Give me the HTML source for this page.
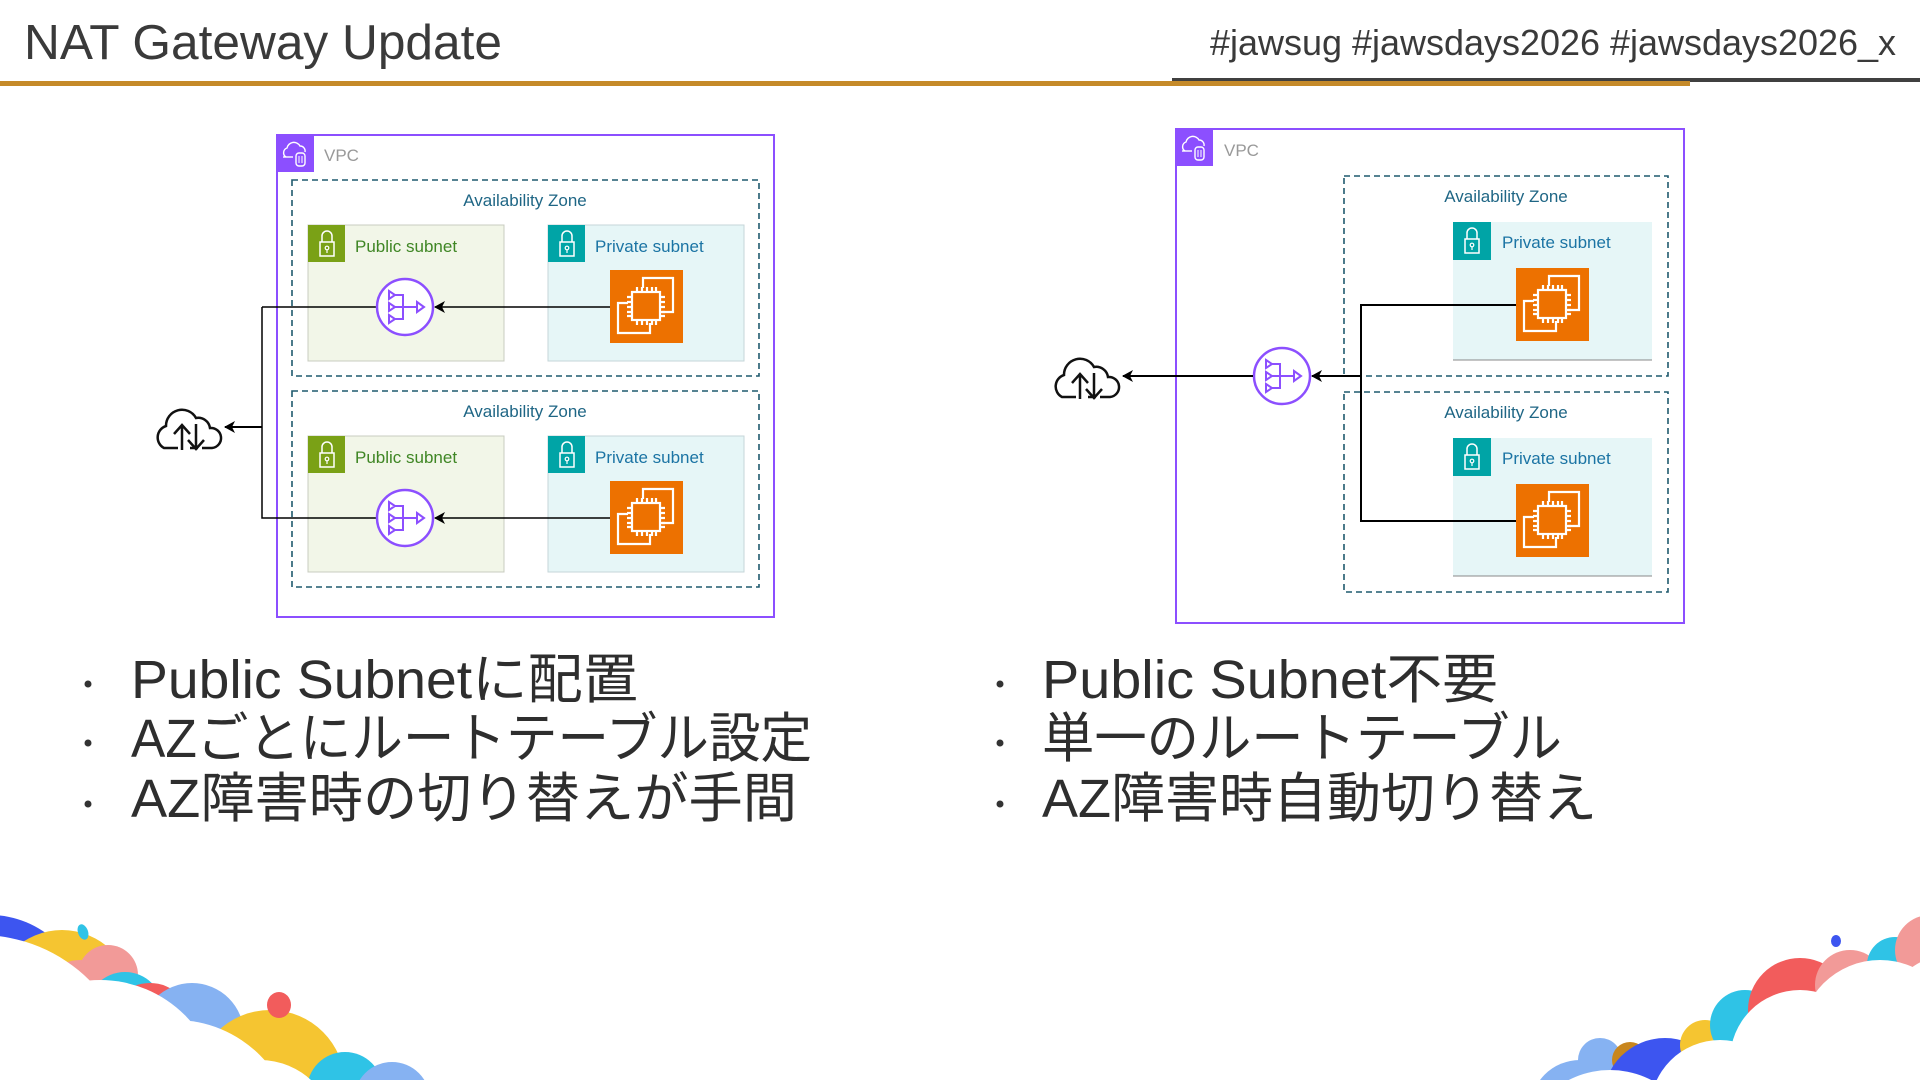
<!DOCTYPE html>
<html><head><meta charset="utf-8"><style>
html,body{margin:0;padding:0;background:#fff;width:1920px;height:1080px;overflow:hidden}
svg{display:block;overflow:hidden}
.t{font-family:"Liberation Sans","Noto Sans CJK JP",sans-serif}
</style></head><body>
<svg width="1920" height="1080" viewBox="0 0 1920 1080" xmlns="http://www.w3.org/2000/svg">
<defs>
<marker id="ah" markerWidth="12" markerHeight="12" refX="10" refY="6" orient="auto" markerUnits="userSpaceOnUse">
<path d="M0,0 L11,6 L0,12 L3,6 Z" fill="#000"/>
</marker>
<g id="nat">
<circle cx="0" cy="0" r="28" fill="#fff" stroke="#8C4FFF" stroke-width="2.5"/>
<g fill="none" stroke="#8C4FFF" stroke-width="2">
<path d="M-16,-16 L-10,-12 L-16,-8 Z M-16,-4 L-10,0 L-16,4 Z M-16,8 L-10,12 L-16,16 Z"/>
<path d="M-10,-12 L-2,-12 L-2,12 L-10,12 M-10,0 L12,0"/>
<path d="M12,-5 L19,0 L12,5 Z"/>
</g>
</g>
<g id="ec2">
<rect x="0" y="0" width="73" height="73" fill="#ED7100"/>
<g fill="none" stroke="#fff" stroke-width="2.2">
<path d="M33,18 L33,8 L63,8 L63,42 L52,42"/>
<path d="M18,33 L8,33 L8,63 L40,63 L40,53"/>
<rect x="22" y="22" width="28" height="28"/>
<path d="M27,22 v-5 M32,22 v-5 M37,22 v-5 M42,22 v-5 M46,22 v-5 M27,50 v5 M32,50 v5 M37,50 v5 M42,50 v5 M46,50 v5 M22,27 h-5 M22,32 h-5 M22,37 h-5 M22,42 h-5 M22,46 h-5 M50,27 h5 M50,32 h5 M50,37 h5 M50,42 h5 M50,46 h5"/>
</g>
</g>
<g id="lock">
<rect x="12" y="17" width="14" height="14" fill="none" stroke="#fff" stroke-width="1.5"/>
<path d="M14,17 V11 A5,5 0 0 1 24,11 V17" fill="none" stroke="#fff" stroke-width="1.5"/>
<circle cx="19" cy="23" r="1.8" fill="none" stroke="#fff" stroke-width="1.2"/>
<path d="M19,25 v3" stroke="#fff" stroke-width="1.2"/>
</g>
<g id="vpcicon">
<rect x="0" y="0" width="37" height="37" fill="#8C4FFF"/>
<path d="M9,22 A5,5 0 0 1 10,13 A7,7 0 0 1 23,11 A5,5 0 0 1 28,17" fill="none" stroke="#fff" stroke-width="1.4"/>
<path d="M6,22 h10" stroke="#fff" stroke-width="1.4"/>
<rect x="19" y="18" width="9" height="13" rx="3" fill="none" stroke="#fff" stroke-width="1.4"/>
<path d="M22,21 v7 M25,21 v7" stroke="#fff" stroke-width="1"/>
</g>
<g id="cloud">
<path d="M-20,20 H-26 A12,12 0 0 1 -24,-2 A16,16 0 0 1 6,-10 A12,12 0 0 1 20,0 A10,10 0 0 1 22,20 H12" fill="none" stroke="#111" stroke-width="2.5"/>
<path d="M-8,22 V-2 M-16,6 L-8,-3 L0,6" fill="none" stroke="#111" stroke-width="2.5"/>
<path d="M6,20 V-4 M-2,12 L6,21 L14,12" fill="none" stroke="#111" stroke-width="2.5"/>
<path d="M-20,20 H-12 M0,20 H8" stroke="#111" stroke-width="2.5"/>
</g>
</defs>

<!-- header -->
<text class="t" x="24" y="59" font-size="49" fill="#3a3a3a" textLength="478" lengthAdjust="spacingAndGlyphs">NAT Gateway Update</text>
<text class="t" x="1210" y="55" font-size="36" fill="#3a3a3a" textLength="686" lengthAdjust="spacingAndGlyphs">#jawsug #jawsdays2026 #jawsdays2026_x</text>
<rect x="1172" y="78" width="748" height="4" fill="#404040"/>
<rect x="0" y="81" width="1690" height="5" fill="#C58A29"/>

<!-- LEFT DIAGRAM -->
<rect x="277" y="135" width="497" height="482" fill="#fff" stroke="#8C4FFF" stroke-width="2"/>
<use href="#vpcicon" x="277" y="135"/>
<text class="t" x="324" y="161" font-size="17" fill="#999">VPC</text>

<rect x="292" y="180" width="467" height="196" fill="none" stroke="#1f5a6e" stroke-width="1.6" stroke-dasharray="6,4"/>
<rect x="292" y="391" width="467" height="196" fill="none" stroke="#1f5a6e" stroke-width="1.6" stroke-dasharray="6,4"/>
<text class="t" x="525" y="206" font-size="17" fill="#1f6685" text-anchor="middle">Availability Zone</text>
<text class="t" x="525" y="417" font-size="17" fill="#1f6685" text-anchor="middle">Availability Zone</text>

<g>
<rect x="308" y="225" width="196" height="136" fill="#F2F6E8" stroke="#c8ccc0" stroke-width="1"/>
<rect x="308" y="225" width="37" height="37" fill="#7AA116"/><use href="#lock" x="308" y="225"/>
<text class="t" x="355" y="252" font-size="17" fill="#3F8624">Public subnet</text>
<rect x="548" y="225" width="196" height="136" fill="#E6F6F7" stroke="#c6d6d8" stroke-width="1"/>
<rect x="548" y="225" width="37" height="37" fill="#00A4A6"/><use href="#lock" x="548" y="225"/>
<text class="t" x="595" y="252" font-size="17" fill="#1b74a4">Private subnet</text>
</g>
<g>
<rect x="308" y="436" width="196" height="136" fill="#F2F6E8" stroke="#c8ccc0" stroke-width="1"/>
<rect x="308" y="436" width="37" height="37" fill="#7AA116"/><use href="#lock" x="308" y="436"/>
<text class="t" x="355" y="463" font-size="17" fill="#3F8624">Public subnet</text>
<rect x="548" y="436" width="196" height="136" fill="#E6F6F7" stroke="#c6d6d8" stroke-width="1"/>
<rect x="548" y="436" width="37" height="37" fill="#00A4A6"/><use href="#lock" x="548" y="436"/>
<text class="t" x="595" y="463" font-size="17" fill="#1b74a4">Private subnet</text>
</g>

<path d="M262,307 H378 M262,307 V518 H378" fill="none" stroke="#000" stroke-width="1.5"/>
<use href="#nat" x="405" y="307"/>
<use href="#nat" x="405" y="518"/>
<use href="#ec2" x="610" y="270"/>
<use href="#ec2" x="610" y="481"/>
<path d="M610,307 H435" fill="none" stroke="#000" stroke-width="1.5" marker-end="url(#ah)"/>
<path d="M610,518 H435" fill="none" stroke="#000" stroke-width="1.5" marker-end="url(#ah)"/>
<path d="M262,427 H225" fill="none" stroke="#000" stroke-width="2" marker-end="url(#ah)"/>
<use href="#cloud" x="190" y="428"/>

<!-- RIGHT DIAGRAM -->
<rect x="1176" y="129" width="508" height="494" fill="#fff" stroke="#8C4FFF" stroke-width="2"/>
<use href="#vpcicon" x="1176" y="129"/>
<text class="t" x="1224" y="156" font-size="17" fill="#999">VPC</text>
<rect x="1344" y="176" width="324" height="200" fill="none" stroke="#1f5a6e" stroke-width="1.6" stroke-dasharray="6,4"/>
<rect x="1344" y="392" width="324" height="200" fill="none" stroke="#1f5a6e" stroke-width="1.6" stroke-dasharray="6,4"/>
<text class="t" x="1506" y="202" font-size="17" fill="#1f6685" text-anchor="middle">Availability Zone</text>
<text class="t" x="1506" y="418" font-size="17" fill="#1f6685" text-anchor="middle">Availability Zone</text>

<rect x="1453" y="222" width="199" height="138" fill="#E6F6F7"/>
<path d="M1453,360 H1652" stroke="#888" stroke-width="1"/>
<rect x="1453" y="222" width="38" height="38" fill="#00A4A6"/><use href="#lock" x="1453" y="222"/>
<text class="t" x="1502" y="248" font-size="17" fill="#1b74a4">Private subnet</text>
<rect x="1453" y="438" width="199" height="138" fill="#E6F6F7"/>
<path d="M1453,576 H1652" stroke="#888" stroke-width="1"/>
<rect x="1453" y="438" width="38" height="38" fill="#00A4A6"/><use href="#lock" x="1453" y="438"/>
<text class="t" x="1502" y="464" font-size="17" fill="#1b74a4">Private subnet</text>
<use href="#ec2" x="1516" y="268"/>
<use href="#ec2" x="1516" y="484"/>

<path d="M1516,305 H1361 V521 H1516" fill="none" stroke="#000" stroke-width="2"/>
<path d="M1361,376 H1312" fill="none" stroke="#000" stroke-width="2" marker-end="url(#ah)"/>
<use href="#nat" x="1282" y="376"/>
<path d="M1253,376 H1123" fill="none" stroke="#000" stroke-width="2" marker-end="url(#ah)"/>
<use href="#cloud" x="1088" y="377"/>

<!-- bullets -->
<g class="t" font-size="54" fill="#2e2e2e">
<circle cx="88" cy="684" r="3.5" fill="#333"/>
<circle cx="88" cy="743" r="3.5" fill="#333"/>
<circle cx="88" cy="804" r="3.5" fill="#333"/>
<text x="131" y="698" textLength="507" lengthAdjust="spacingAndGlyphs">Public Subnetに配置</text>
<text x="131" y="757" textLength="681" lengthAdjust="spacingAndGlyphs">AZごとにルートテーブル設定</text>
<text x="131" y="817" textLength="666" lengthAdjust="spacingAndGlyphs">AZ障害時の切り替えが手間</text>
<circle cx="1000" cy="684" r="3.5" fill="#333"/>
<circle cx="1000" cy="743" r="3.5" fill="#333"/>
<circle cx="1000" cy="804" r="3.5" fill="#333"/>
<text x="1042" y="698" textLength="456" lengthAdjust="spacingAndGlyphs">Public Subnet不要</text>
<text x="1042" y="757" textLength="520" lengthAdjust="spacingAndGlyphs">単一のルートテーブル</text>
<text x="1042" y="817" textLength="555" lengthAdjust="spacingAndGlyphs">AZ障害時自動切り替え</text>
</g>

<!-- bottom-left decoration -->
<g>
<circle cx="-10" cy="1010" r="95" fill="#3D55F0"/>
<circle cx="62" cy="1000" r="70" fill="#F5C531"/>
<circle cx="108" cy="975" r="30" fill="#F29A98"/>
<circle cx="80" cy="1000" r="40" fill="#F29A98"/>
<circle cx="125" cy="1010" r="38" fill="#2FC3E6"/>
<circle cx="150" cy="1025" r="42" fill="#F25C5C"/>
<circle cx="192" cy="1035" r="52" fill="#86B2F2"/>
<circle cx="270" cy="1085" r="75" fill="#F5C531"/>
<circle cx="345" cy="1090" r="38" fill="#2FC3E6"/>
<circle cx="392" cy="1100" r="38" fill="#86B2F2"/>
<circle cx="-20" cy="1090" r="155" fill="#fff"/>
<circle cx="100" cy="1100" r="120" fill="#fff"/>
<circle cx="175" cy="1140" r="120" fill="#fff"/>
<circle cx="260" cy="1135" r="75" fill="#fff"/>
<circle cx="350" cy="1140" r="55" fill="#fff"/>
<circle cx="400" cy="1150" r="60" fill="#fff"/>
<ellipse cx="83" cy="932" rx="5" ry="8" fill="#2FC3E6" transform="rotate(-20 83 932)"/>
<ellipse cx="279" cy="1005" rx="12" ry="13" fill="#F25C5C"/>
</g>

<!-- bottom-right decoration -->
<g>
<circle cx="1580" cy="1110" r="50" fill="#86B2F2"/>
<circle cx="1600" cy="1060" r="22" fill="#86B2F2"/>
<circle cx="1630" cy="1060" r="18" fill="#C8861E"/>
<circle cx="1665" cy="1100" r="62" fill="#3D55F0"/>
<circle cx="1705" cy="1045" r="25" fill="#F5C531"/>
<circle cx="1745" cy="1025" r="35" fill="#2FC3E6"/>
<circle cx="1800" cy="1010" r="52" fill="#F25C5C"/>
<circle cx="1850" cy="985" r="35" fill="#F29A98"/>
<circle cx="1895" cy="965" r="28" fill="#2FC3E6"/>
<circle cx="1930" cy="950" r="35" fill="#F29A98"/>
<circle cx="1610" cy="1160" r="90" fill="#fff"/>
<circle cx="1720" cy="1110" r="70" fill="#fff"/>
<circle cx="1800" cy="1060" r="70" fill="#fff"/>
<circle cx="1880" cy="1040" r="80" fill="#fff"/>
<circle cx="1950" cy="1020" r="65" fill="#fff"/>
<ellipse cx="1836" cy="941" rx="5" ry="6" fill="#3D55F0"/>
</g>
</svg>
</body></html>
